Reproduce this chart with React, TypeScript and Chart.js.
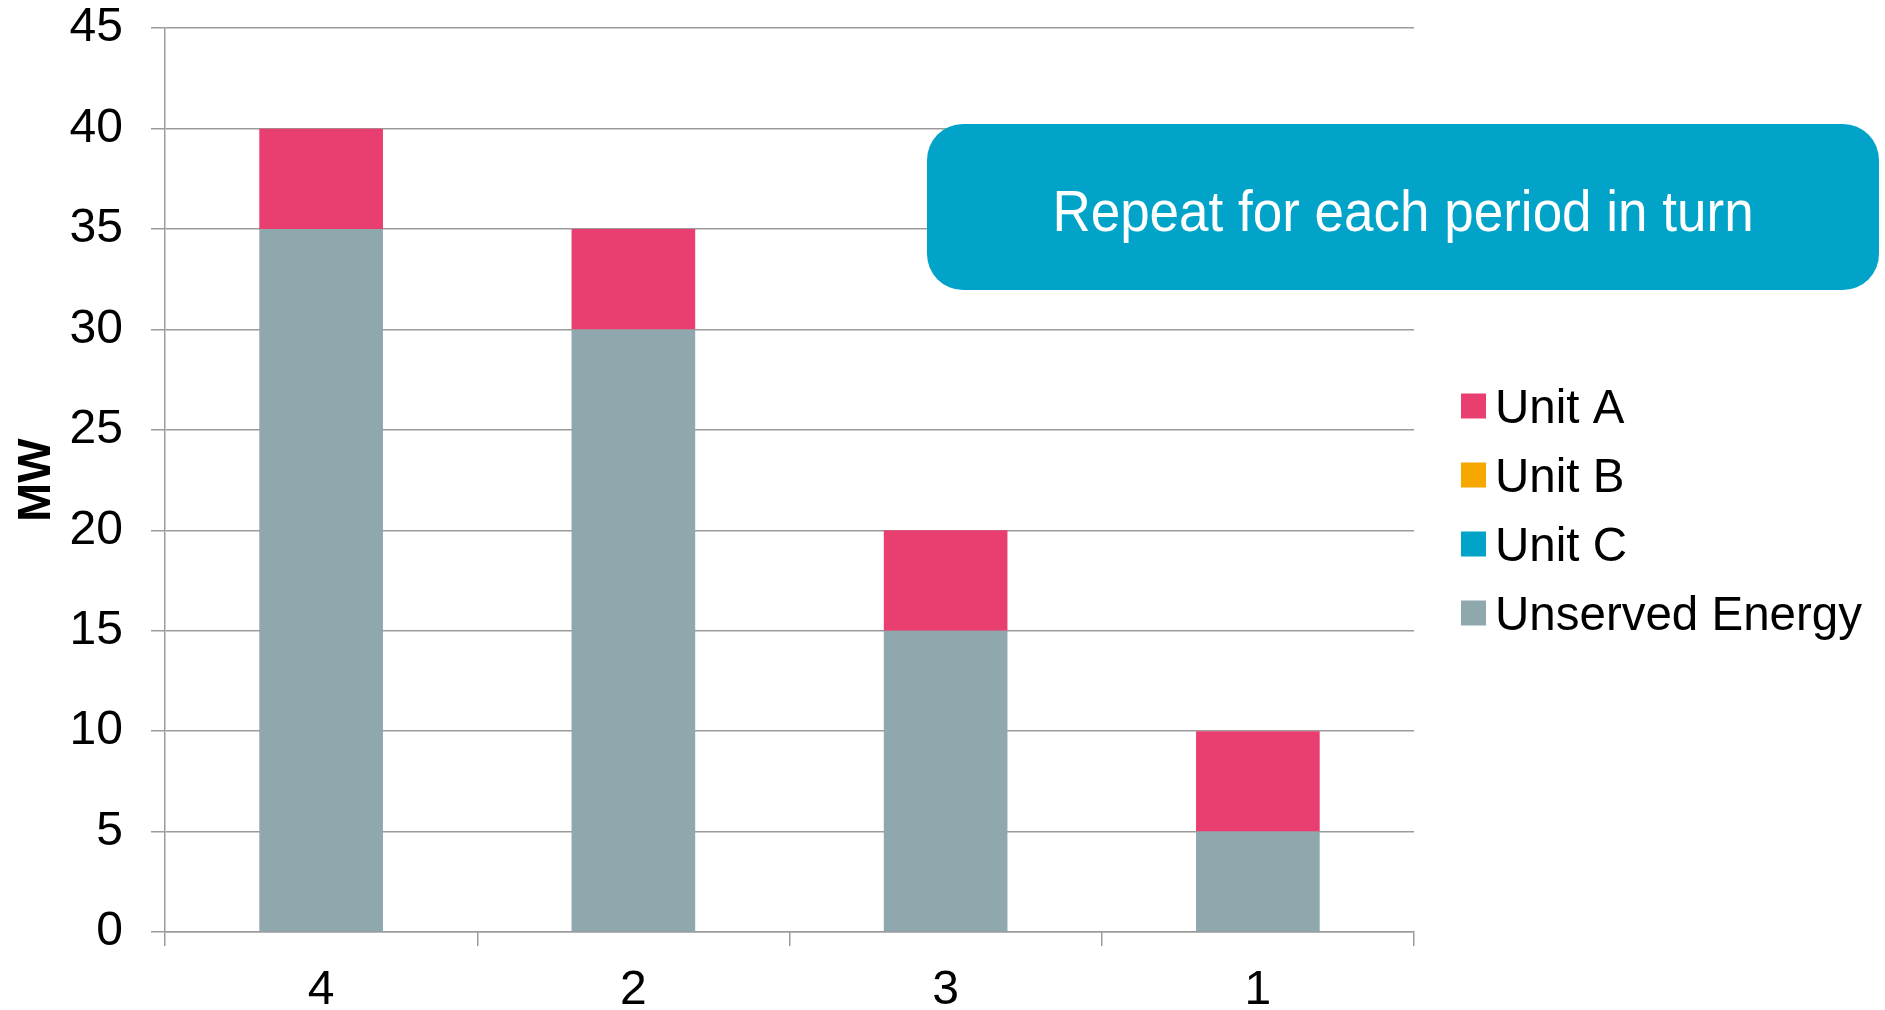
import { useEffect, useRef } from "react";
import { Chart, registerables } from "chart.js";

Chart.register(...registerables);

// Dispatch order of periods and the stacked MW per unit
const periods = ["4", "2", "3", "1"];
const unitA = [5, 5, 5, 5];
const unitB = [0, 0, 0, 0];
const unitC = [0, 0, 0, 0];
const unservedEnergy = [35, 30, 15, 5];

const yMin = 0;
const yMax = 45;
const yStep = 5;

const seriesLabels = ["Unit A", "Unit B", "Unit C", "Unserved Energy"];
const calloutText = "Repeat for each period in turn";

const COLORS = {
  unitA: "#E93F70",
  unitB: "#F6A800",
  unitC: "#02A3C9",
  unserved: "#8FA8AD",
  grid: "#9b9b9b",
};

const FONT = '"Liberation Sans", Arial, Helvetica, sans-serif';

// Legend listed top-down in the order the units are named
const sideLegend = {
  id: "sideLegend",
  afterDraw(chart: any) {
    const { ctx, chartArea } = chart;
    const byLabel: Record<string, any> = {};
    chart.data.datasets.forEach((ds: any) => (byLabel[ds.label] = ds));
    const x0 = chartArea.right + 47;
    const y0 = 406;
    const rowGap = 69;
    ctx.save();
    ctx.font = `47.5px ${FONT}`;
    ctx.textBaseline = "alphabetic";
    ctx.textAlign = "left";
    seriesLabels.forEach((label, i) => {
      const ds = byLabel[label];
      const cy = y0 + i * rowGap;
      ctx.fillStyle = ds.backgroundColor;
      ctx.fillRect(x0, cy - 12.5, 25, 25);
      ctx.fillStyle = "#000";
      ctx.fillText(label, x0 + 34, cy + 17);
    });
    ctx.restore();
  },
};

export default function App() {
  const canvasRef = useRef<HTMLCanvasElement | null>(null);

  useEffect(() => {
    if (!canvasRef.current) return;
    const chart = new Chart(canvasRef.current, {
      type: "bar",
      data: {
        labels: periods,
        datasets: [
          { label: "Unserved Energy", data: unservedEnergy, backgroundColor: COLORS.unserved },
          { label: "Unit C", data: unitC, backgroundColor: COLORS.unitC },
          { label: "Unit B", data: unitB, backgroundColor: COLORS.unitB },
          { label: "Unit A", data: unitA, backgroundColor: COLORS.unitA },
        ],
      },
      options: {
        responsive: false,
        animation: false,
        devicePixelRatio: 1,
        layout: { padding: { left: 0, right: 471, top: 0, bottom: 0 } },
        datasets: {
          bar: { categoryPercentage: 0.4, barPercentage: 0.99, borderWidth: 0 },
        },
        plugins: {
          legend: { display: false },
          tooltip: { enabled: false },
        },
        scales: {
          x: {
            stacked: true,
            offset: true,
            afterFit(scale: any) {
              scale.height = 78;
            },
            grid: {
              offset: true,
              drawOnChartArea: false,
              drawTicks: true,
              tickLength: 14,
              color: COLORS.grid,
              lineWidth: 1.5,
            },
            border: { color: COLORS.grid, width: 1.5 },
            ticks: {
              color: "#000",
              padding: 21,
              font: { family: FONT, size: 48, lineHeight: 1.0 },
            },
          },
          y: {
            stacked: true,
            min: yMin,
            max: yMax,
            afterFit(scale: any) {
              scale.width = 165;
            },
            grid: {
              color: COLORS.grid,
              lineWidth: 1.5,
              tickLength: 14,
            },
            border: { color: COLORS.grid, width: 1.5 },
            ticks: {
              stepSize: yStep,
              color: "#000",
              padding: 28,
              font: { family: FONT, size: 48, lineHeight: 0.01 },
            },
            title: {
              display: true,
              text: "MW",
              color: "#000",
              padding: { top: 9, bottom: 0 },
              font: { family: FONT, size: 47, weight: "bold", lineHeight: 1.2 },
            },
          },
        },
      },
      plugins: [sideLegend],
    });
    return () => chart.destroy();
  }, []);

  return (
    <div
      style={{
        position: "fixed",
        left: 0,
        top: 0,
        width: 1885,
        height: 1010,
        background: "#fff",
        overflow: "hidden",
      }}
    >
      <canvas ref={canvasRef} width={1885} height={1010} style={{ display: "block" }} />
      <div
        style={{
          position: "absolute",
          left: 927,
          top: 124,
          width: 952,
          height: 166,
          borderRadius: 36,
          background: COLORS.unitC,
          color: "#fff",
          fontFamily: FONT,
          fontSize: 53,
          display: "flex",
          alignItems: "center",
          justifyContent: "center",
          whiteSpace: "nowrap",
        }}
      >
        <span style={{ display: "inline-block", transform: "translateY(3px) scaleY(1.1)" }}>
          {calloutText}
        </span>
      </div>
    </div>
  );
}
